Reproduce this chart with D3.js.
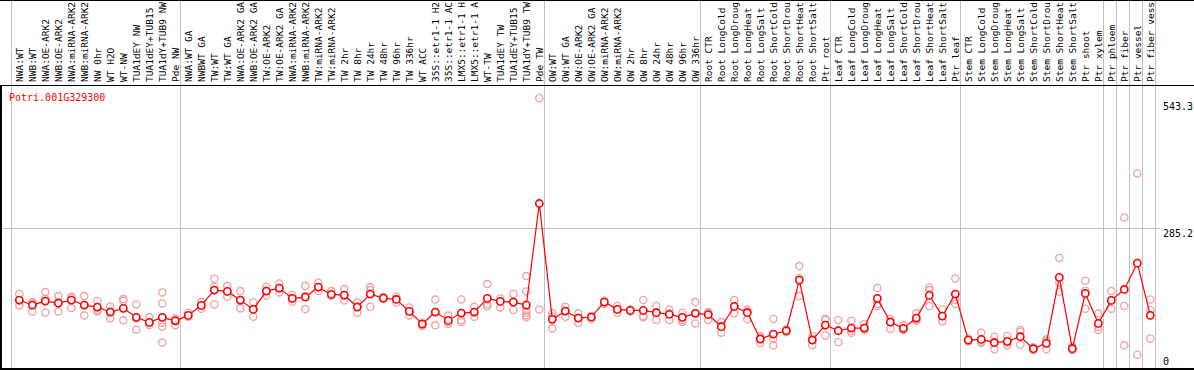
<!DOCTYPE html>
<html>
<head>
<meta charset="utf-8">
<script src="https://cdn.jsdelivr.net/npm/d3@7"></script>
<style>
body { margin: 0; background: #fff; }
svg { display: block; font-family: "DejaVu Sans Mono", monospace; font-size: 10px; }
</style>
</head>
<body>
<svg id="chart" width="1194" height="370"></svg>
<script>
var GENE_ID = "Potri.001G329300";

// sample names (cut to 14 chars like the original)
var labels = [
  "NWA:WT", "NWB:WT", "NWA:OE-ARK2", "NWB:OE-ARK2", "NWA:miRNA-ARK2", "NWB:miRNA-ARK2",
  "NW 0hr", "WT H2O", "WT-NW", "TUA1dEY NW", "TUA1dEY+TUB15", "TUA1dY+TUB9 NW", "Pde NW",
  "NWA:WT GA", "NWBWT GA", "TW:WT", "TW:WT GA", "NWA:OE-ARK2 GA", "NWB:OE-ARK2 GA",
  "TW:OE-ARK2", "TW:OE-ARK2 GA", "NWA:miRNA-ARK2", "NWB:miRNA-ARK2", "TW:miRNA-ARK2",
  "TW:miRNA-ARK2", "TW 2hr", "TW 8hr", "TW 24hr", "TW 48hr", "TW 96hr", "TW 336hr",
  "WT ACC", "35S::etr1-1 H2", "35S::etr1-1 AC", "LMX5::etr1-1 H", "LMX5::etr1-1 A",
  "WT-TW", "TUA1dEY TW", "TUA1dEY+TUB15", "TUA1dY+TUB9 TW", "Pde TW",
  "OW:WT", "OW:WT GA", "OW:OE-ARK2", "OW:OE-ARK2 GA", "OW:miRNA-ARK2", "OW:miRNA-ARK2",
  "OW 2hr", "OW 8hr", "OW 24hr", "OW 48hr", "OW 96hr", "OW 336hr",
  "Root CTR", "Root LongCold", "Root LongDroug", "Root LongHeat", "Root LongSalt",
  "Root ShortCold", "Root ShortDrou", "Root ShortHeat", "Root ShortSalt", "Ptr root",
  "Leaf CTR", "Leaf LongCold", "Leaf LongDroug", "Leaf LongHeat", "Leaf LongSalt",
  "Leaf ShortCold", "Leaf ShortDrou", "Leaf ShortHeat", "Leaf ShortSalt", "Ptr leaf",
  "Stem CTR", "Stem LongCold", "Stem LongDroug", "Stem LongHeat", "Stem LongSalt",
  "Stem ShortCold", "Stem ShortDrou", "Stem ShortHeat", "Stem ShortSalt", "Ptr shoot",
  "Ptr xylem", "Ptr phloem", "Ptr fiber", "Ptr vessel", "Ptr fiber vess"
];

// mean expression per sample
var means = [
  142.8, 132.9, 140.8, 136.8, 142.8, 132.9, 128.9, 119, 126.3, 108.5,
  98.5, 108.5, 101.7, 112.4, 132.2, 162.6, 160, 142.8, 124.3, 160.6,
  166.6, 146.1, 148.7, 168.5, 154, 152.7, 128.9, 154.7, 146.7, 144,
  120.3, 95.2, 119, 102.4, 117, 119, 146.1, 140.1, 138.8, 132.9,
  334.5, 104.5, 120.9, 107.1, 109.1, 138.8, 124.3, 122.3, 122.3, 117.7,
  114.4, 108.5, 116.4, 113.8, 89.9, 130.2, 117.7, 65.4, 75.3, 81.9,
  182.4, 63.4, 93.2, 81.9, 87.2, 87.2, 146.1, 99.1, 86.6, 107.1,
  152.1, 111, 154.7, 63.4, 64.7, 58.2, 60.8, 70, 46.3, 56.9,
  187.8, 46.3, 156, 96.5, 142.1, 163.9, 216.1, 112.4
];

// replicate values per sample
var reps = [
  [154.7, 142, 132.2], [138.8, 136.2, 120.3], [158.6, 145.5, 118.3], [150.7, 139.4, 120.3],
  [150, 147, 127], [150.7, 133, 112.4], [140.8, 128, 123, 120], [130.2, 120, 106.5],
  [144.7, 140.8, 102.5], [134.2, 106.7, 84.6], [108.5, 98, 93.3],
  [158, 136.2, 108.5, 97.8, 89.9, 58.8], [106, 101, 92.6], [117.7, 112, 109.7],
  [138.8, 132, 125.6], [185.1, 169.2, 134.2], [170.5, 160, 149.4], [160.6, 142, 126.3],
  [138.2, 125, 109.7], [169.2, 160.6, 152], [175.8, 166, 158], [152.7, 146, 139.5],
  [170.5, 151, 124.9], [177.1, 168, 160.6], [160.6, 154, 150.7], [164.6, 152, 142.1],
  [138.2, 130, 117.7], [168.5, 162.6, 129.6], [149.4, 146, 144.7], [150, 145, 138],
  [128.2, 120, 112.4], [97.8, 95, 91.2], [144.1, 119, 92.6], [112.4, 99.1, 95.2],
  [144.1, 103.1, 99.1], [129.6, 119, 109.7], [174.5, 135, 130.3], [146.1, 140, 128.2],
  [154.7, 138.8, 123], [190.4, 160, 123, 117.7, 112.4, 108.5],
  [543.3, 124.3], [116.4, 110, 86.6], [129.6, 121, 109.7], [116.4, 107, 97.8],
  [111, 109, 104.5], [141.4, 139, 135], [130.9, 124, 117.7], [124.3, 122, 120.3],
  [142.8, 111, 108.5], [130.9, 118, 103.1], [124.3, 116, 103.1], [117.7, 103.1, 99.1],
  [138.8, 116, 96.5], [119, 117, 103.1], [99.1, 92, 78], [142.8, 130, 116.4],
  [124.3, 120, 104.5], [71.4, 68, 56.9], [105.1, 65.4, 52.9], [84.6, 82, 79],
  [210.2, 186, 150.7], [71.4, 66, 52.9], [105.7, 103.1, 72.7], [103.1, 81.9, 59.5],
  [101.7, 82, 78], [95.2, 87, 83.3], [166.6, 135, 130.9], [105.7, 100, 85.9],
  [92.6, 86, 83.3], [116.4, 104, 101.7], [167.9, 162.6, 130.9], [124.3, 111, 100.5],
  [185.8, 143, 135], [66, 63.4, 60.8], [78, 60, 58.2], [70, 60, 45],
  [71.4, 58, 52.9], [83.3, 80, 54.2], [49, 46, 43.7], [64.7, 61, 45],
  [226.2, 177.1, 159.3], [50.2, 46, 43.7], [181.1, 161.3, 125.6], [116.4, 90, 83.3],
  [160.6, 142, 125.6], [306.8, 130.9, 52.9], [394, 34.3], [144.1, 123, 66.7]
];

// first sample index of each group (last entry closes the final group)
var groupStarts = [0, 13, 41, 53, 63, 73, 84, 85, 86, 87, 88];
var yTicks = [543.3, 285.2, 0];
var gridTicks = [285.2];

var LINE_COLOR = "#ff0000";
var REP_COLOR = "#f0a0a0";
var GRID_COLOR = "#c0c0c0";
var W = 1194, H = 370;
var HEADER_H = 85;

var svg = d3.select("#chart");

var x = d3.scaleLinear()
  .domain([0, labels.length - 1])
  .range([19.3, 1150.3]);
var y = d3.scaleLinear()
  .domain([0, 543.3])
  .range([372, 98.3]);

svg.append("rect").attr("width", W).attr("height", H).attr("fill", "#fff");

// group separators, through header and plot
svg.append("g").selectAll("line")
  .data(groupStarts)
  .enter().append("line")
  .attr("x1", function(d) { return Math.round(x(d - 0.64)) + 0.5; })
  .attr("x2", function(d) { return Math.round(x(d - 0.64)) + 0.5; })
  .attr("y1", 0)
  .attr("y2", H)
  .attr("stroke", GRID_COLOR)
  .attr("shape-rendering", "crispEdges");

// horizontal grid
svg.append("g").selectAll("line")
  .data(gridTicks)
  .enter().append("line")
  .attr("x1", 0)
  .attr("x2", 1160)
  .attr("y1", function(d) { return Math.round(y(d)) + 0.5; })
  .attr("y2", function(d) { return Math.round(y(d)) + 0.5; })
  .attr("stroke", GRID_COLOR)
  .attr("shape-rendering", "crispEdges");

// rotated sample labels in the header (slightly narrower so 14 chars fit)
svg.append("g").selectAll("text")
  .data(labels)
  .enter().append("text")
  .attr("transform", function(d, i) { return "translate(" + x(i) + "," + (HEADER_H - 3) + ") rotate(-90)"; })
  .attr("dy", "0.35em")
  .attr("font-size", "9.5px")
  .attr("fill", "#000")
  .text(function(d) { return d; });

// frame
var frame = svg.append("g").attr("stroke", "#000").attr("shape-rendering", "crispEdges");
frame.append("line").attr("x1", 0).attr("x2", W).attr("y1", 0.5).attr("y2", 0.5);
frame.append("line").attr("x1", 0).attr("x2", W).attr("y1", HEADER_H + 0.5).attr("y2", HEADER_H + 0.5);
frame.append("line").attr("x1", 0).attr("x2", W).attr("y1", H - 1).attr("y2", H - 1).attr("stroke-width", 2);
frame.append("line").attr("x1", 1).attr("x2", 1).attr("y1", HEADER_H).attr("y2", H).attr("stroke-width", 2);

// replicate circles
var repPoints = [];
reps.forEach(function(vals, i) {
  vals.forEach(function(v) { repPoints.push({i: i, v: v}); });
});
svg.append("g").selectAll("circle")
  .data(repPoints)
  .enter().append("circle")
  .attr("cx", function(d) { return x(d.i); })
  .attr("cy", function(d) { return y(d.v); })
  .attr("r", 3.6)
  .attr("fill", "none")
  .attr("stroke", REP_COLOR)
  .attr("stroke-width", 1.3);

// mean line + circles
var line = d3.line()
  .x(function(d, i) { return x(i); })
  .y(function(d) { return y(d); });
svg.append("path")
  .datum(means)
  .attr("d", line)
  .attr("fill", "none")
  .attr("stroke", LINE_COLOR)
  .attr("stroke-width", 1.2);

svg.append("g").selectAll("circle")
  .data(means)
  .enter().append("circle")
  .attr("cx", function(d, i) { return x(i); })
  .attr("cy", function(d) { return y(d); })
  .attr("r", 3.6)
  .attr("fill", "#fff")
  .attr("stroke", LINE_COLOR)
  .attr("stroke-width", 1.6);

// gene id
svg.append("text")
  .attr("x", 9)
  .attr("y", 101)
  .attr("fill", LINE_COLOR)
  .text(GENE_ID);

// y labels on the right
svg.append("g").selectAll("text")
  .data(yTicks)
  .enter().append("text")
  .attr("x", 1163)
  .attr("y", function(d) { return Math.min(Math.max(y(d) + 9, 110), 365); })
  .attr("fill", "#000")
  .text(function(d) { return d; });
</script>
</body>
</html>
